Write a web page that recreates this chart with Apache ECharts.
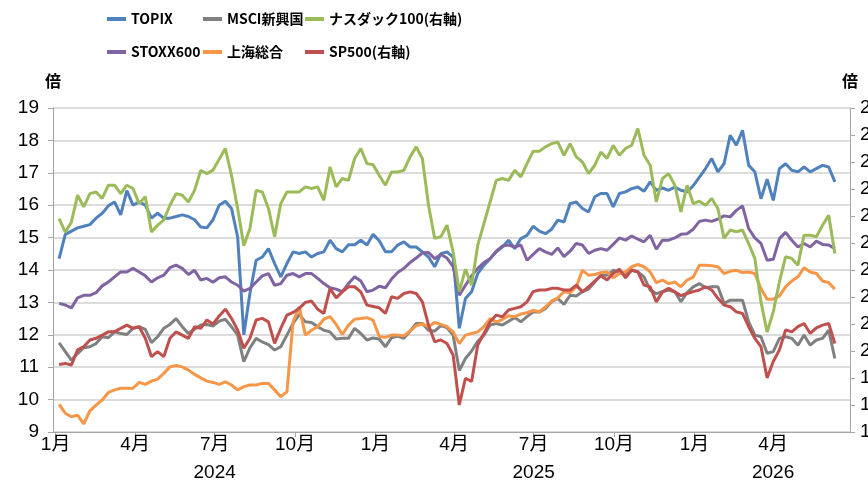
<!DOCTYPE html>
<html>
<head>
<meta charset="utf-8">
<script src="https://cdn.jsdelivr.net/npm/echarts@6/dist/echarts.min.js"></script>
<style>
  html, body { margin: 0; padding: 0; background: #fff; }
  #main { width: 868px; height: 485px; }
</style>
</head>
<body>
<div id="main"></div>
<script>
// one observation about every week from 2024-01-05
var firstDay = [2024, 0, 5];
var stepDays = 7.045;

var topix = [14.35,15.1,15.2,15.3,15.35,15.4,15.6,15.75,15.98,16.1,
  15.7,16.45,16.0,16.1,16.0,15.6,15.75,15.6,15.6,15.65,
  15.7,15.65,15.55,15.33,15.3,15.55,16.0,16.12,15.9,15.02,
  12.0,13.28,14.3,14.4,14.66,14.2,13.79,14.2,14.56,14.51,
  14.56,14.4,14.51,14.56,14.92,14.66,14.56,14.78,14.78,14.92,
  14.77,15.1,14.9,14.56,14.56,14.77,14.87,14.71,14.71,14.56,
  14.4,14.1,14.5,14.56,14.4,12.2,13.12,13.33,13.89,14.15,
  14.35,14.56,14.71,14.92,14.66,14.97,15.07,15.35,15.2,15.12,
  15.26,15.54,15.48,16.05,16.1,15.9,15.79,16.26,16.36,16.36,
  15.95,16.36,16.41,16.51,16.56,16.43,16.72,16.46,16.53,16.46,
  16.56,16.46,16.41,16.6,16.87,17.13,17.44,17.03,17.28,18.16,
  17.85,18.31,17.23,17.03,16.2,16.8,16.15,17.13,17.28,17.08,
  17.03,17.18,17.03,17.13,17.23,17.18,16.72];

var msciEm = [11.75,11.48,11.22,11.42,11.6,11.63,11.73,11.94,11.91,12.09,
  12.04,12.01,12.2,12.25,12.17,11.76,11.94,12.2,12.32,12.5,
  12.25,12.04,12.17,12.3,12.32,12.27,12.42,12.48,12.25,11.99,
  11.17,11.6,11.89,11.78,11.7,11.53,11.63,11.99,12.35,12.63,
  12.4,12.38,12.25,12.14,12.09,11.87,11.89,11.89,12.2,12.04,
  11.84,11.9,11.87,11.63,11.91,11.96,11.89,12.11,12.35,12.35,
  12.14,12.11,12.28,12.22,11.99,10.9,11.27,11.5,11.8,11.99,
  12.3,12.35,12.3,12.42,12.53,12.4,12.56,12.71,12.7,12.81,
  13.02,13.12,12.94,13.22,13.2,13.33,13.41,13.63,13.84,13.84,
  13.99,13.94,13.86,13.99,13.94,13.79,13.38,13.27,13.33,13.38,
  13.33,13.02,13.3,13.48,13.58,13.45,13.48,13.48,12.97,13.07,
  13.07,13.07,12.4,11.99,11.94,11.43,11.48,11.89,11.94,11.89,
  11.68,11.99,11.68,11.84,11.89,12.14,11.27];

var nasdaq = [24.9,24.4,24.78,25.77,25.34,25.83,25.89,25.65,26.14,26.14,
  25.83,26.14,26.02,25.46,25.71,24.41,24.66,24.85,25.4,25.83,
  25.77,25.52,25.95,26.69,26.57,26.7,27.1,27.5,26.51,25.28,
  23.9,24.54,25.95,25.89,25.28,24.23,25.46,25.89,25.89,25.89,
  26.08,26.02,26.08,25.58,26.82,26.08,26.39,26.32,27.13,27.5,
  26.94,26.9,26.5,26.14,26.63,26.63,26.69,27.19,27.56,27.13,
  25.4,24.17,24.23,24.66,23.67,22.2,23.03,22.44,23.92,24.72,
  25.52,26.32,26.39,26.32,26.69,26.45,26.94,27.4,27.4,27.56,
  27.68,27.74,27.25,27.68,27.19,27.0,26.57,26.88,27.37,27.13,
  27.62,27.25,27.5,27.62,28.24,27.25,26.88,25.52,26.39,26.57,
  26.14,25.15,26.14,25.46,25.55,25.4,25.65,25.28,24.17,24.48,
  24.41,24.48,23.98,23.43,21.82,20.7,21.45,22.56,23.49,23.43,
  23.18,24.29,24.29,24.23,24.66,25.03,23.61];

var stoxx = [12.97,12.92,12.83,13.14,13.22,13.22,13.3,13.51,13.63,13.79,
  13.94,13.94,14.05,13.94,13.82,13.63,13.76,13.84,14.07,14.15,
  14.05,13.86,13.99,13.69,13.74,13.62,13.76,13.79,13.63,13.53,
  13.35,13.43,13.63,13.82,13.89,13.53,13.58,13.84,13.89,13.79,
  13.89,13.89,13.74,13.58,13.45,13.41,13.33,13.58,13.79,13.66,
  13.33,13.38,13.5,13.45,13.72,13.92,14.05,14.23,14.37,14.53,
  14.54,14.35,14.48,14.37,14.1,13.22,13.53,13.82,14.05,14.23,
  14.35,14.58,14.74,14.77,14.71,14.77,14.3,14.48,14.66,14.56,
  14.48,14.68,14.41,14.58,14.82,14.77,14.51,14.61,14.66,14.61,
  14.79,14.99,14.92,15.05,14.95,14.87,15.07,14.64,14.92,14.92,
  14.99,15.1,15.12,15.26,15.5,15.54,15.5,15.57,15.67,15.64,
  15.84,15.98,15.28,14.99,14.82,14.3,14.33,14.97,15.16,14.92,
  14.71,14.82,14.71,14.89,14.79,14.77,14.66];

var shanghai = [9.85,9.58,9.47,9.52,9.25,9.65,9.83,9.99,10.22,10.3,
  10.35,10.35,10.35,10.53,10.47,10.57,10.63,10.81,11.01,11.05,
  11.01,10.91,10.78,10.67,10.57,10.53,10.47,10.55,10.45,10.3,
  10.4,10.45,10.45,10.5,10.5,10.3,10.09,10.24,12.4,12.86,
  11.99,12.14,12.25,12.48,12.56,12.32,12.01,12.3,12.48,12.5,
  12.53,12.45,11.95,11.92,11.99,11.99,11.97,12.11,12.28,12.34,
  12.25,12.38,12.32,12.25,12.09,11.73,11.99,12.04,12.09,12.25,
  12.5,12.4,12.47,12.59,12.56,12.64,12.68,12.75,12.71,12.86,
  13.04,13.14,13.33,13.3,13.48,13.99,13.84,13.86,13.92,13.94,
  13.76,13.89,13.94,14.1,14.17,14.1,13.94,13.61,13.69,13.58,
  13.63,13.48,13.69,13.78,14.15,14.15,14.13,14.1,13.89,13.96,
  13.99,13.92,13.94,13.89,13.43,13.1,13.1,13.2,13.48,13.66,
  13.79,14.07,13.94,13.89,13.66,13.61,13.41];

var sp500 = [19.5,19.54,19.48,20.04,20.16,20.41,20.47,20.59,20.71,20.71,
  20.84,20.96,20.84,20.9,20.47,19.79,19.98,19.79,20.47,20.71,
  20.59,20.47,20.9,20.84,21.15,21.0,21.3,21.55,21.21,20.78,
  20.1,20.47,21.15,21.21,21.08,20.28,20.84,21.33,21.43,21.58,
  21.8,21.85,21.55,21.39,22.32,21.97,22.19,22.38,22.38,22.19,
  21.7,21.65,21.6,21.39,22.01,21.95,22.13,22.19,22.13,21.82,
  20.96,20.34,20.41,20.28,19.85,18.0,18.99,18.87,20.22,20.65,
  21.08,21.33,21.27,21.52,21.58,21.64,21.82,22.2,22.26,22.26,
  22.32,22.32,22.26,22.26,22.44,22.19,22.38,22.59,22.79,22.63,
  22.87,23.03,22.71,23.0,22.93,22.44,22.38,21.82,22.19,22.32,
  22.19,22.05,22.13,22.2,22.26,22.38,22.26,21.95,21.7,21.64,
  21.45,21.39,20.9,20.47,20.16,19.0,19.61,20.04,20.78,20.71,
  20.9,21.02,20.65,20.86,20.96,21.02,20.28];

// x axis: quarter ticks, year group labels
var monthTicks = ['2024-01-01','2024-04-01','2024-07-01','2024-10-01','2025-01-01',
  '2025-04-01','2025-07-01','2025-10-01','2026-01-01','2026-04-01'];
var yearStarts = ['2024-01-01','2025-01-01','2026-01-01'];
var yearLabelAt = ['2024-07-01','2025-07-01','2026-04-01'];
var xRange = ['2023-12-29','2026-06-28'];

var colors = {
  topix: '#4F81BD', msci: '#808080', nasdaq: '#9BBB59',
  stoxx: '#8064A2', shanghai: '#F79646', sp: '#C0504D'
};

var font = '"Liberation Sans", Arial, "Noto Sans CJK JP", sans-serif';
// narrower latin glyphs so the three legend columns don't collide
var legendFont = '"Noto Sans CJK JP", sans-serif';

function toTime(s) {
  var p = s.split('-');
  return new Date(+p[0], +p[1] - 1, +p[2]).getTime();
}

var day0 = new Date(firstDay[0], firstDay[1], firstDay[2]).getTime();
var dates = [];
for (var i = 0; i < topix.length; i++) {
  dates.push(day0 + Math.round(i * stepDays * 24) * 3600 * 1000);
}

function pairs(values) {
  return values.map(function (v, i) { return [dates[i], v]; });
}

function line(name, values, color, yIndex) {
  return {
    name: name,
    type: 'line',
    yAxisIndex: yIndex,
    data: pairs(values),
    showSymbol: false,
    symbol: 'none',
    lineStyle: { color: color, width: 3 },
    itemStyle: { color: color }
  };
}

var legendBase = {
  orient: 'vertical',
  top: 7,
  itemGap: 19,
  icon: 'rect',
  itemWidth: 19,
  itemHeight: 4,
  textStyle: { fontSize: 14, fontWeight: 'bold', color: '#000', fontFamily: legendFont }
};

var myChart = echarts.init(document.getElementById('main'));
var option = {
  animation: false,
  backgroundColor: '#fff',
  legend: [
    Object.assign({}, legendBase, { left: 102, data: ['TOPIX', 'STOXX600'] }),
    Object.assign({}, legendBase, { left: 198, data: ['MSCI新興国', '上海総合'] }),
    Object.assign({}, legendBase, { left: 300, data: ['ナスダック100(右軸)', 'SP500(右軸)'] })
  ],
  grid: { left: 53, right: 18, top: 108, bottom: 53, containLabel: false, outerBoundsMode: 'none' },
  xAxis: [
    {
      type: 'value',
      min: toTime(xRange[0]),
      max: toTime(xRange[1]),
      axisLine: { show: true, lineStyle: { color: '#a6a6a6', width: 1 } },
      axisTick: { show: true, length: 5, lineStyle: { color: '#a6a6a6' }, customValues: monthTicks.map(toTime) },
      axisLabel: {
        customValues: monthTicks.map(toTime),
        margin: 3,
        color: '#000',
        fontSize: 19,
        fontFamily: font,
        formatter: function (v) { return (new Date(v).getMonth() + 1) + '月'; }
      },
      splitLine: { show: false }
    },
    {
      type: 'value',
      gridIndex: 0,
      position: 'bottom',
      min: toTime(xRange[0]),
      max: toTime(xRange[1]),
      axisLine: { show: false },
      axisTick: { show: true, length: 9, lineStyle: { color: '#a6a6a6' }, customValues: yearStarts.map(toTime) },
      axisLabel: {
        customValues: yearLabelAt.map(toTime),
        margin: 31,
        color: '#000',
        fontSize: 19,
        fontFamily: font,
        formatter: function (v) { return String(new Date(v).getFullYear()); }
      },
      splitLine: { show: false }
    }
  ],
  yAxis: [
    {
      type: 'value',
      min: 9,
      max: 19,
      interval: 1,
      name: '倍',
      nameLocation: 'end',
      nameGap: 17,
      nameTextStyle: { color: '#000', fontSize: 16, fontWeight: 'bold', fontFamily: font, align: 'center' },
      axisLine: { show: true, lineStyle: { color: '#a6a6a6' } },
      axisTick: { show: true, length: 5, lineStyle: { color: '#a6a6a6' } },
      axisLabel: { color: '#000', fontSize: 19, fontFamily: font, margin: 14 },
      splitLine: { show: true, lineStyle: { color: '#d0d0d0', width: 1.5 } }
    },
    {
      type: 'value',
      min: 17,
      max: 29,
      interval: 1,
      position: 'right',
      name: '倍',
      nameLocation: 'end',
      nameGap: 17,
      nameTextStyle: { color: '#000', fontSize: 16, fontWeight: 'bold', fontFamily: font, align: 'center' },
      axisLine: { show: true, lineStyle: { color: '#a6a6a6' } },
      axisTick: { show: true, length: 5, lineStyle: { color: '#a6a6a6' } },
      axisLabel: { color: '#000', fontSize: 19, fontFamily: font, margin: 10 },
      splitLine: { show: false }
    }
  ],
  series: [
    line('TOPIX', topix, colors.topix, 0),
    line('MSCI新興国', msciEm, colors.msci, 0),
    line('STOXX600', stoxx, colors.stoxx, 0),
    line('上海総合', shanghai, colors.shanghai, 0),
    line('ナスダック100(右軸)', nasdaq, colors.nasdaq, 1),
    line('SP500(右軸)', sp500, colors.sp, 1)
  ]
};
myChart.setOption(option, true);
</script>
</body>
</html>
